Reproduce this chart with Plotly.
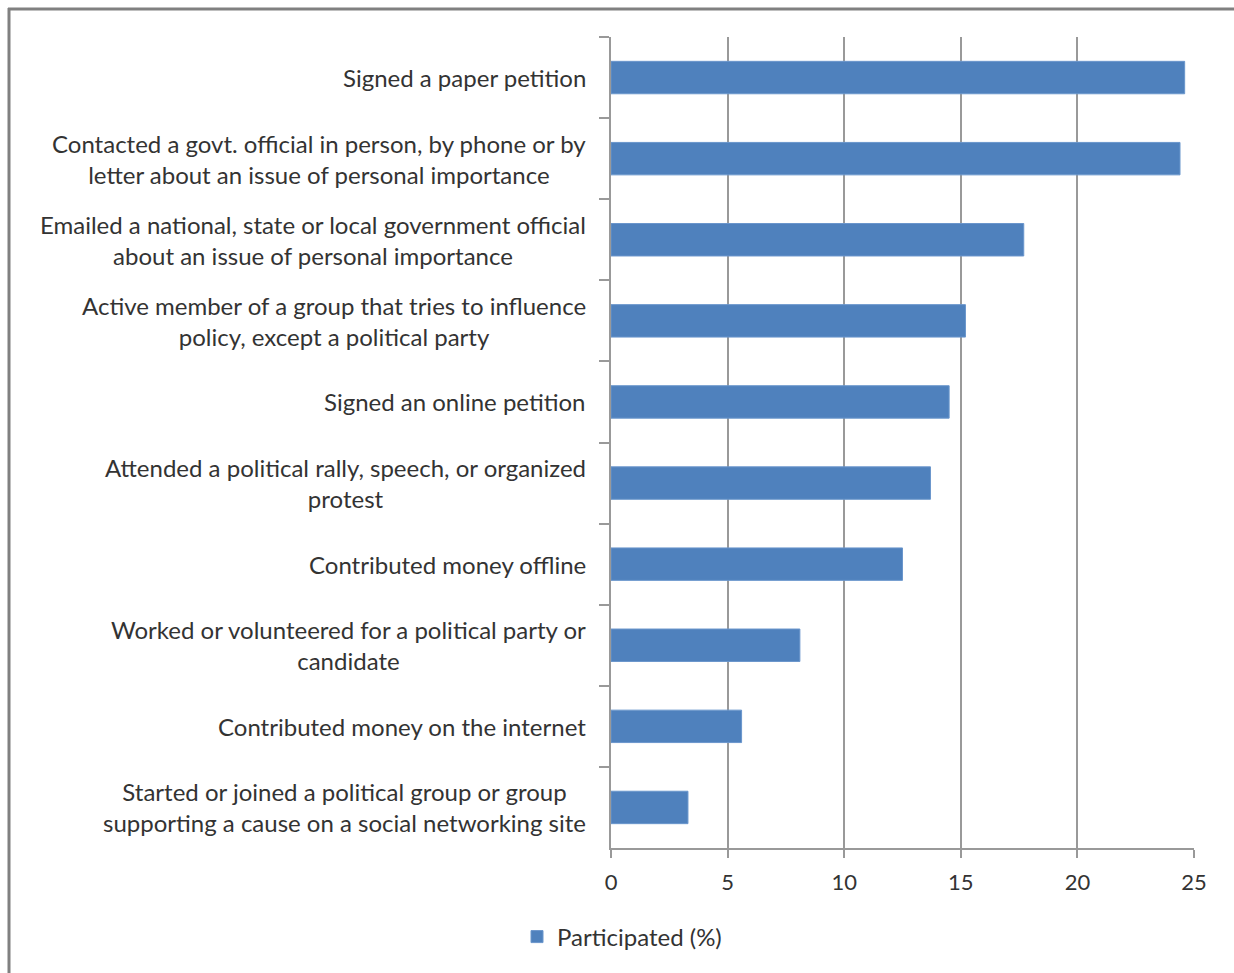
import plotly.graph_objects as go

categories = [
    "Signed a paper petition",
    "Contacted a govt. official in person, by phone or by<br>letter about an issue of personal importance",
    "Emailed a national, state or local government official<br>about an issue of personal importance",
    "Active member of a group that tries to influence<br>policy, except a political party",
    "Signed an online petition",
    "Attended a political rally, speech, or organized<br>protest",
    "Contributed money offline",
    "Worked or volunteered for a political party or<br>candidate",
    "Contributed money on the internet",
    "Started or joined a political group or group<br>supporting a cause on a social networking site",
]
values = [24.6, 24.4, 17.7, 15.2, 14.5, 13.7, 12.5, 8.1, 5.6, 3.3]
series_name = "Participated (%)"
x_ticks = [0, 5, 10, 15, 20, 25]

W, H = 1234, 973
L, R, T, B = 611, 40, 37, 125
PW, PH = W - L - R, H - T - B

FONT = "Lato, 'Open Sans', sans-serif"
TXT = "#333333"
GRID = "#999999"
BAR = "#4F81BD"

fig = go.Figure()
fig.add_trace(go.Bar(
    x=values, y=categories, orientation="h", name=series_name,
    marker=dict(color=BAR, line=dict(color="#6a96cc", width=1)),
    width=0.4, showlegend=True,
))

def px_x(p):
    return (p - L) / PW

def px_y(p):
    return (H - B - p) / PH

annotations = []
for c in categories:
    annotations.append(dict(
        x=0, xref="paper", y=c, yref="y", text=c, showarrow=False,
        xanchor="right", yanchor="middle", align="center", xshift=-23,
        font=dict(family=FONT, size=24, color=TXT),
    ))

shapes = [
    dict(type="line", xref="paper", yref="paper",
         x0=px_x(9), x1=px_x(9), y0=px_y(8), y1=px_y(H + 10),
         line=dict(color="#808080", width=3)),
    dict(type="line", xref="paper", yref="paper",
         x0=px_x(8), x1=px_x(W + 10), y0=px_y(9), y1=px_y(9),
         line=dict(color="#808080", width=3)),
]

fig.update_layout(
    width=W, height=H,
    margin=dict(l=L, r=R, t=T, b=B),
    paper_bgcolor="white", plot_bgcolor="white",
    font=dict(family=FONT, size=24, color=TXT),
    bargap=0.6,
    annotations=annotations,
    shapes=shapes,
    legend=dict(orientation="h", x=px_x(622), xanchor="center",
                y=px_y(937), yanchor="middle",
                font=dict(family=FONT, size=24, color=TXT)),
    xaxis=dict(range=[0, 25], tickvals=x_ticks, showgrid=True,
               gridcolor=GRID, gridwidth=1.5, zeroline=False,
               showline=True, linecolor=GRID, linewidth=1.5,
               ticks="outside", ticklen=8, tickcolor=GRID, tickwidth=1.5,
               tickfont=dict(family=FONT, size=22, color=TXT),
               ticklabelstandoff=6),
    yaxis=dict(autorange="reversed", showticklabels=False,
               showline=True, linecolor=GRID, linewidth=1.5,
               ticks="outside", ticklen=10, tickcolor=GRID, tickwidth=1.5,
               tickson="boundaries", showgrid=False, zeroline=False),
)

fig.write_html("out.html")
